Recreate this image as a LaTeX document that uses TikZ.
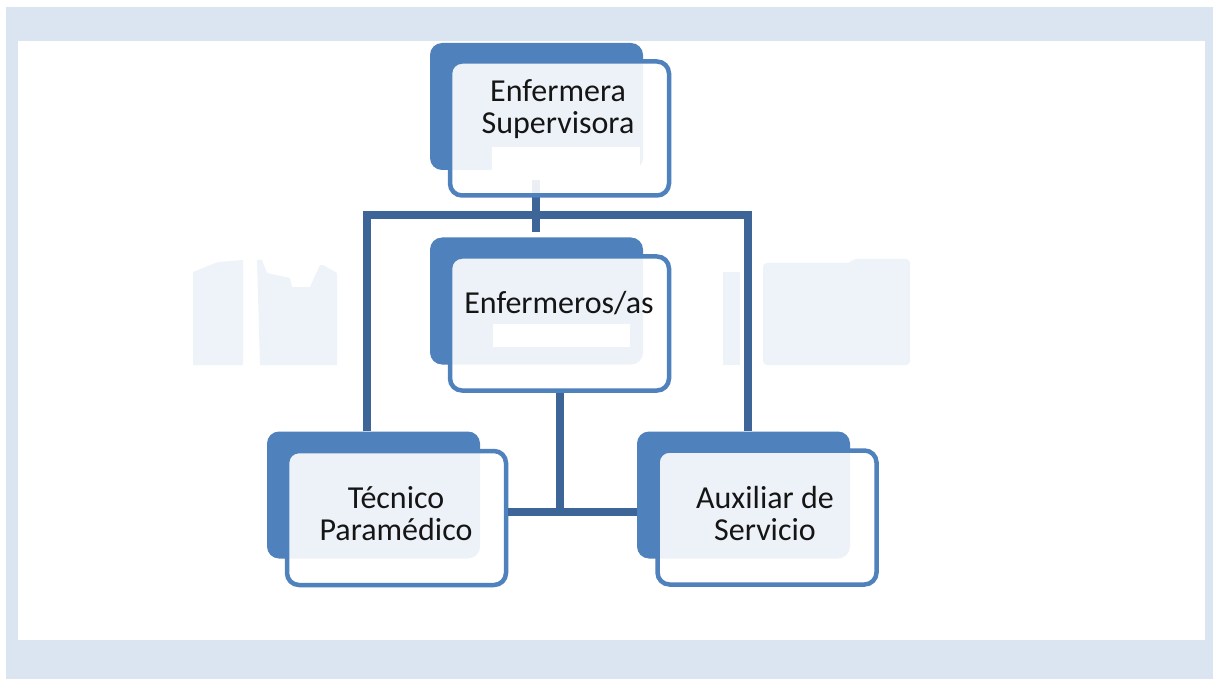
\documentclass[tikz,border=0pt]{standalone}
\usepackage{fontspec}
\setmainfont{Carlito}
\definecolor{frameblue}{HTML}{DBE5F1}
\definecolor{boxblue}{HTML}{4F81BD}
\definecolor{linkblue}{HTML}{3D6598}
\definecolor{ghost}{HTML}{EEF3FA}
\definecolor{txt}{HTML}{151515}
\tikzset{
  backbox/.style={rectangle, fill=boxblue, rounded corners=12pt, minimum width=213pt, minimum height=127pt, inner sep=0pt},
  frontbox/.style={rectangle, draw=boxblue, line width=4.5pt, fill=white, fill opacity=0.9, draw opacity=1, rounded corners=12pt, minimum width=219pt, minimum height=134pt, inner sep=0pt},
  conn/.style={draw=linkblue, line width=7.5pt},
  label/.style={inner sep=0pt, text=txt, font=\fontsize{32}{32}\selectfont, anchor=base}
}
\begin{document}
\begin{tikzpicture}[x=1pt,y=-1pt]
\useasboundingbox (0,0) rectangle (1213,679);
\fill[white] (0,0) rectangle (1213,679);
\fill[frameblue] (6,7) rectangle (1213,679);
\fill[white] (18,41) rectangle (1205,640);
% faint patches
\fill[ghost] (193,272) -- (203,268) -- (218,262) -- (243,260) -- (243,365) -- (193,365) -- cycle;
\fill[ghost] (257,260) -- (262,260) -- (267,273) -- (290,278) -- (292,287) -- (310,287) -- (320,265) -- (323,265) -- (337,273) -- (337,365) -- (260,365) -- cycle;
\fill[ghost] (723,272) -- (740,272) -- (740,365) -- (723,365) -- cycle;
\fill[ghost, rounded corners=4pt] (763,263) -- (852,263) -- (852,259) -- (910,259) -- (910,365) -- (763,365) -- cycle;
% junction coordinates
\coordinate (jl) at (367,215);
\coordinate (jt) at (536,215);
\coordinate (jr) at (748,215);
\coordinate (jm) at (560,512);
% back boxes
\node[backbox] (b1) at (536.5,106.5) {};
\node[backbox] (b2) at (536.5,301) {};
\node[backbox] (b3) at (373.5,495) {};
\node[backbox] (b4) at (743.5,495) {};
% connectors (under the front boxes)
\draw[conn] (b3.north -| jl) -- (jl) -- (jr) -- (b4.north -| jr);
\draw[conn] ([yshift=-10pt]b1.south -| jt) -- ([yshift=5pt]b2.north -| jt);
% front boxes
\node[frontbox] (f1) at (559.5,128.5) {};
\node[frontbox] (f2) at (559.5,323.5) {};
\node[frontbox] (f3) at (396.5,518) {};
\node[frontbox] (f4) at (767,517.5) {};
% connectors above
\draw[conn] (jt) -- ([yshift=5pt]b2.north -| jt);
\draw[conn] (f2.south -| jm) -- (jm);
\draw[conn] (f3.east |- jm) -- (b4.west |- jm);
% white patches
\fill[white] (492,147) -- (640,147) -- (640,177) -- (492,177) -- cycle;
\fill[white] (493,324) -- (630,324) -- (630,347) -- (493,347) -- cycle;
% labels
\node[label] (t1) at (558,102) {\begin{tabular}[t]{@{}c@{}}Enfermera\\Supervisora\end{tabular}};
\node[label] (t2) at (559,313) {Enfermeros/as};
\node[label] (t3) at (396,508) {\begin{tabular}[t]{@{}c@{}}Técnico\\Paramédico\end{tabular}};
\node[label] (t4) at (765,508) {\begin{tabular}[t]{@{}c@{}}Auxiliar de\\Servicio\end{tabular}};
\end{tikzpicture}
\end{document}
